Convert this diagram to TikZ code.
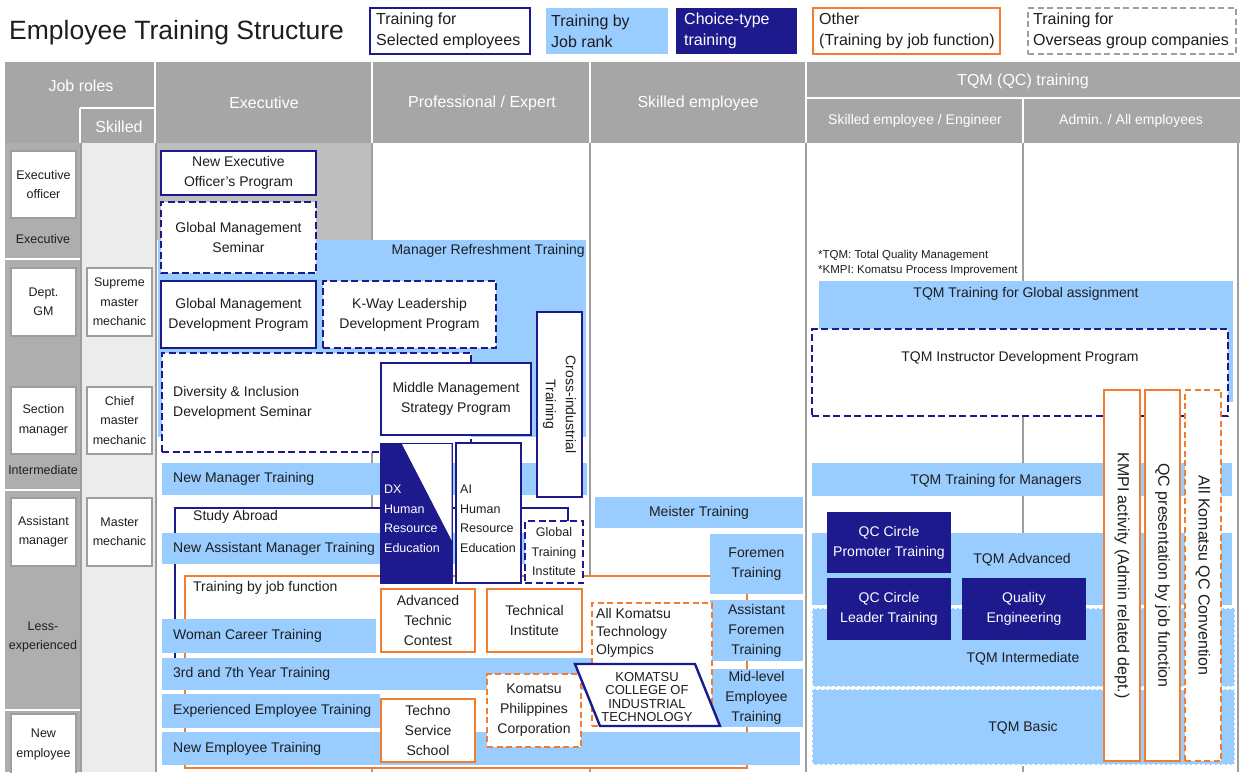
\documentclass[tikz,border=0pt]{standalone}
\usepackage{fontspec}
\setmainfont{Liberation Sans}
\usetikzlibrary{positioning}

\definecolor{navy}{RGB}{28,26,140}
\definecolor{lblue}{RGB}{153,204,255}
\definecolor{orng}{RGB}{240,125,48}
\definecolor{hgray}{RGB}{166,166,166}
\definecolor{cgray}{RGB}{174,174,174}
\definecolor{egray}{RGB}{190,190,190}
\definecolor{pgray}{RGB}{236,236,236}
\definecolor{lgray}{RGB}{158,158,158}
\definecolor{ink}{RGB}{30,30,30}

\begin{document}
\begin{tikzpicture}[x=1pt,y=-1pt,
        span/.style n args={4}{anchor=north west,outer sep=0pt,at={(#1,#2)},minimum width=#3-#1,minimum height=#4-#2},
        txt/.style={font=\fontsize{14}{20}\selectfont,text=ink,inner sep=0pt,align=center},
        small/.style={txt,font=\fontsize{12.5}{19.5}\selectfont},
        head/.style={font=\fontsize{16}{20}\selectfont,text=white,inner sep=0pt},
        subhead/.style={head,font=\fontsize{14}{20}\selectfont},
        legend/.style={font=\fontsize{16}{21}\selectfont,text=ink,inner sep=0pt,align=left},
        vert/.style={font=\fontsize{16}{20}\selectfont,text=ink,inner sep=0pt,rotate=-90},
        selbox/.style={txt,draw=navy,line width=2.4pt,fill=white},
        seldash/.style={selbox,dash pattern=on 7pt off 3.5pt},
        rankbar/.style={txt,fill=lblue},
        tqmbar/.style={rankbar,draw=white,line width=1.2pt,dash pattern=on 3pt off 2pt},
        choice/.style={txt,fill=navy,text=white},
        funcbox/.style={txt,draw=orng,line width=2.4pt,fill=white},
        funcdash/.style={funcbox,dash pattern=on 6pt off 3.5pt},
        rolebox/.style={small,draw=lgray,line width=1.6pt,fill=white},
        divider/.style={lgray,line width=2pt},
        split/.style={white,line width=2.5pt}]

    \useasboundingbox[fill=white] (0,0) rectangle (1240,772);

    % title and legend
    \node[font=\fontsize{26.5}{30}\selectfont,text=ink,inner sep=0pt,anchor=west] (title) at (9,33) {Employee Training Structure};
    \node[selbox,span={370}{8}{530}{54}] (lsel) {};
    \node[legend,right=6pt of lsel.west] (lsell) {Training for\\Selected employees};
    \node[rankbar,span={546}{8}{668}{54}] (lrank) {};
    \node[legend,right=5pt of lrank.west] (lrankl) {Training by\\Job rank};
    \node[choice,span={676}{8}{797}{54}] (lcho) {};
    \node[legend,text=white,right=8pt of lcho.west] (lchol) {Choice-type\\training};
    \node[funcbox,span={813}{8}{1000}{54}] (loth) {};
    \node[legend,right=6pt of loth.west] (lothl) {Other\\(Training by job function)};
    \node[txt,draw=lgray,line width=2.4pt,dash pattern=on 6pt off 3.5pt,span={1028}{8}{1236}{54}] (lovs) {};
    \node[legend,right=5pt of lovs.west] (lovsl) {Training for\\Overseas group companies};

    % header
    \fill[hgray] (5,62) rectangle (1240,143);
    \draw[split] (155,62) -- (155,143) (80,108) -- (155,108) (80,108) -- (80,143)
        (372,62) -- (372,143) (590,62) -- (590,143) (806,62) -- (806,143)
        (806,98) -- (1240,98) (1023,98) -- (1023,143);
    \node[head] (hjob) at (81,86) {Job roles};
    \node[head] (hskl) at (119,127) {Skilled};
    \node[head] (hexe) at (264,103) {Executive};
    \node[head] (hpro) at (482,103) {Professional / Expert};
    \node[head] (hske) at (698,103) {Skilled employee};
    \node[head] (htqm) at (1023,81) {TQM (QC) training};
    \node[subhead] (hsen) at (915,121) {Skilled employee / Engineer};
    \node[subhead] (hadm) at (1131,121) {Admin. / All employees};

    % job roles
    \fill[cgray] (5,143) rectangle (81,772);
    \fill[pgray] (81,143) rectangle (156,772);
    \draw[divider] (81,143) -- (81,772) (156,143) -- (156,772);
    \draw[split] (5,259) -- (80,259) (5,490) -- (80,490) (5,710) -- (80,710);
    \node[rolebox,span={11}{151}{76}{218}] (exo) {Executive\\officer};
    \node[small] (exe) at (43,239) {Executive};
    \node[rolebox,span={11}{268}{76}{336}] (dgm) {Dept.\\GM};
    \node[rolebox,span={11}{387}{76}{454}] (scm) {Section\\manager};
    \node[small] (imd) at (43,470) {Intermediate};
    \node[rolebox,span={11}{498}{76}{566}] (asm) {Assistant\\manager};
    \node[small] (lex) at (43,637) {Less-\\experienced};
    \node[rolebox,span={11}{714}{76}{775}] (nem) {New\\employee};
    \node[rolebox,span={87}{268}{152}{336}] (smm) {Supreme\\master\\mechanic};
    \node[rolebox,span={87}{387}{152}{454}] (cmm) {Chief\\master\\mechanic};
    \node[rolebox,span={87}{498}{152}{566}] (mmc) {Master\\mechanic};

    % columns
    \fill[egray] (157,143) rectangle (372,240);
    \draw[divider] (372,143) -- (372,772) (590,143) -- (590,772) (806,143) -- (806,772) (1238,143) -- (1238,772);
    \draw[divider,line width=1.5pt] (1023,143) -- (1023,772);

    % open frames
    \node[selbox,span={175}{508}{568}{672}] (sab) {};
    \node[txt,anchor=west] (sabl) at ([xshift=18pt,yshift=-9pt]sab.north west) {Study Abroad};
    \node[funcbox,span={185}{576}{747}{768}] (tjf) {};
    \node[txt,anchor=west] (tjfl) at ([xshift=8pt,yshift=-12pt]tjf.north west) {Training by job function};

    % job rank
    \node[rankbar,span={158}{240}{586}{437}] (mrt) {};
    \node[txt,anchor=east] (mrtl) at ([xshift=-1pt,yshift=-11pt]mrt.north east) {Manager Refreshment Training};
    \node[rankbar,span={162}{463}{587}{495}] (nmt) {};
    \node[txt,right=11pt of nmt.west] (nmtl) {New Manager Training};
    \node[rankbar,span={162}{533}{525}{564}] (nam) {};
    \node[txt,right=11pt of nam.west] (naml) {New Assistant Manager Training};
    \node[rankbar,span={162}{619}{376}{653}] (wct) {};
    \node[txt,right=11pt of wct.west] (wctl) {Woman Career Training};
    \node[rankbar,span={162}{658}{612}{690}] (yrt) {};
    \node[txt,right=11pt of yrt.west] (yrtl) {3rd and 7th Year Training};
    \node[rankbar,span={162}{694}{380}{728}] (eet) {};
    \node[txt,right=11pt of eet.west] (eetl) {Experienced Employee Training};
    \node[rankbar,span={162}{732}{800}{765}] (net) {};
    \node[txt,right=11pt of net.west] (netl) {New Employee Training};
    \node[rankbar,span={595}{497}{803}{528}] (mst) {Meister Training};
    \node[rankbar,span={710}{534}{803}{594}] (fmt) {Foremen\\Training};
    \node[rankbar,span={710}{600}{803}{661}] (aft) {Assistant\\Foremen\\Training};
    \node[rankbar,span={710}{669}{803}{727}] (mlt) {Mid-level\\Employee\\Training};

    % executive
    \node[selbox,span={161}{151}{316}{195}] (neo) {New Executive\\Officer's Program};
    \node[seldash,span={161}{202}{316}{273}] (gms) {Global Management\\Seminar};
    \node[selbox,span={161}{281}{316}{348}] (gmd) {Global Management\\Development Program};
    \node[seldash,span={323}{281}{496}{348}] (kwl) {K-Way Leadership\\Development Program};
    \node[seldash,span={162}{353}{471}{452}] (dni) {};
    \node[txt,align=left,right=11pt of dni.west] (dnil) {Diversity \& Inclusion\\Development Seminar};
    \node[selbox,span={381}{363}{531}{435}] (mms) {Middle Management\\Strategy Program};
    \node[selbox,span={537}{312}{582}{497}] (cit) {};
    \node[txt,rotate=-90] (citl) at (cit.center) {Cross-industrial\\Training};
    \node[choice,draw=navy,line width=1pt,span={380}{443}{452}{583}] (dx) {};
    \fill[white] (402,444) -- (451.5,444) -- (451.5,540) -- cycle;
    \node[small,align=left,text=white,anchor=west] (dxl) at (384,519) {DX\\Human\\Resource\\Education};
    \node[selbox,span={456}{443}{521}{583}] (ai) {};
    \node[small,align=left,anchor=west] (ail) at (460,519) {AI\\Human\\Resource\\Education};
    \node[seldash,small,span={525}{521}{583}{583}] (gti) {Global\\Training\\Institute};

    % job function
    \node[funcbox,span={381}{589}{475}{652}] (atc) {Advanced\\Technic\\Contest};
    \node[funcbox,span={487}{589}{582}{652}] (tci) {Technical\\Institute};
    \node[funcbox,span={381}{699}{475}{762}] (tss) {Techno\\Service\\School};
    \node[funcdash,span={487}{674}{581}{747}] (kpc) {Komatsu\\Philippines\\Corporation};
    \node[funcdash,span={592}{603}{712}{726}] (ato) {};
    \node[txt,font=\fontsize{14}{18}\selectfont,align=left,anchor=west] (atol) at (596,633) {All Komatsu\\Technology\\Olympics};
    \filldraw[draw=navy,fill=white,line width=2.4pt] (575,664) -- (695,664) -- (720,726) -- (600,726) -- cycle;
    \node[txt,font=\fontsize{13}{13.6}\selectfont] (kcit) at (647,697) {KOMATSU\\COLLEGE OF\\INDUSTRIAL\\TECHNOLOGY};

    % TQM
    \node[font=\fontsize{11.5}{15}\selectfont,text=ink,inner sep=0pt,align=left,anchor=west] (note) at (818,263) {*TQM: Total Quality Management\\*KMPI: Komatsu Process Improvement};
    \node[rankbar,span={819}{281}{1233}{402}] (tga) {};
    \node[txt] (tgal) at ([yshift=-13pt]tga.north) {TQM Training for Global assignment};
    \node[seldash,span={812}{329}{1228}{416}] (tid) {};
    \node[txt] (tidl) at ([yshift=-29pt]tid.north) {TQM Instructor Development Program};
    \node[rankbar,span={812}{463}{1232}{496}] (tmg) {};
    \node[txt] (tmgl) at (996,481) {TQM Training for Managers};
    \node[rankbar,span={812}{533}{1232}{605}] (tad) {};
    \node[txt] (tadl) at (1022,560) {TQM Advanced};
    \node[tqmbar,span={812}{608}{1235}{687}] (tim) {};
    \node[txt] (timl) at (1023,659) {TQM Intermediate};
    \node[tqmbar,span={812}{689}{1235}{765}] (tba) {};
    \node[txt] (tbal) at (1023,728) {TQM Basic};
    \node[choice,span={827}{512}{951}{573}] (qcp) {QC Circle\\Promoter Training};
    \node[choice,span={827}{578}{951}{640}] (qcl) {QC Circle\\Leader Training};
    \node[choice,span={962}{578}{1086}{640}] (qen) {Quality\\Engineering};
    \node[funcbox,span={1104}{390}{1140}{761}] (kmp) {};
    \node[vert] (kmpl) at (kmp.center) {KMPI activity (Admin related dept.)};
    \node[funcbox,span={1145}{390}{1180}{761}] (qcj) {};
    \node[vert] (qcjl) at (qcj.center) {QC presentation by job function};
    \node[funcdash,span={1185}{390}{1221}{761}] (akc) {};
    \node[vert] (akcl) at (akc.center) {All Komatsu QC Convention};
\end{tikzpicture}
\end{document}
